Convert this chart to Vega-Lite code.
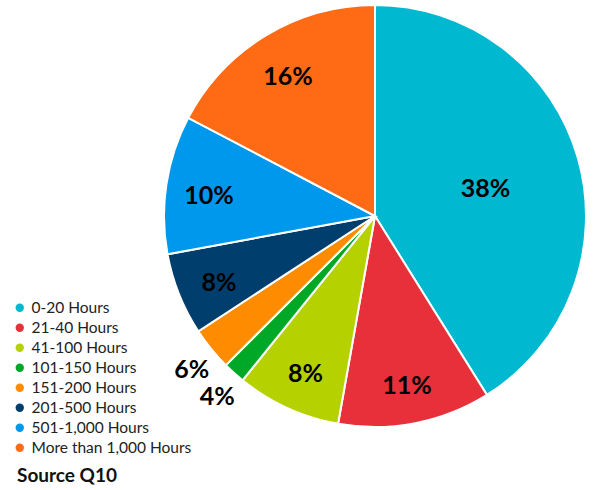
{
  "$schema": "https://vega.github.io/schema/vega-lite/v6.json",
  "width": 422,
  "height": 422,
  "autosize": {"type": "none"},
  "padding": {"left": 164, "top": 5, "right": 9, "bottom": 63},
  "background": "white",
  "title": {
    "text": "Source Q10",
    "orient": "bottom",
    "anchor": "start",
    "frame": "group",
    "dx": -147,
    "offset": 10,
    "font": "Lato",
    "fontSize": 19,
    "fontWeight": "bold",
    "color": "#111111"
  },
  "data": {
    "values": [
      {"idx": 1, "hours": "0-20 Hours", "share": 41.1, "label": "38%"},
      {"idx": 2, "hours": "21-40 Hours", "share": 11.7, "label": "11%"},
      {"idx": 3, "hours": "41-100 Hours", "share": 8.0, "label": "8%"},
      {"idx": 4, "hours": "101-150 Hours", "share": 1.7, "label": "4%"},
      {"idx": 5, "hours": "151-200 Hours", "share": 3.3, "label": "6%"},
      {"idx": 6, "hours": "201-500 Hours", "share": 6.3, "label": "8%"},
      {"idx": 7, "hours": "501-1,000 Hours", "share": 10.6, "label": "10%"},
      {"idx": 8, "hours": "More than 1,000 Hours", "share": 17.3, "label": "16%"}
    ]
  },
  "encoding": {
    "theta": {"field": "share", "type": "quantitative", "stack": true},
    "order": {"field": "idx", "type": "quantitative"}
  },
  "layer": [
    {
      "mark": {"type": "arc", "outerRadius": 211, "stroke": "white", "strokeWidth": 2},
      "encoding": {
        "color": {
          "field": "hours",
          "type": "nominal",
          "sort": ["0-20 Hours", "21-40 Hours", "41-100 Hours", "101-150 Hours", "151-200 Hours", "201-500 Hours", "501-1,000 Hours", "More than 1,000 Hours"],
          "scale": {
            "domain": ["0-20 Hours", "21-40 Hours", "41-100 Hours", "101-150 Hours", "151-200 Hours", "201-500 Hours", "501-1,000 Hours", "More than 1,000 Hours"],
            "range": ["#00B9D1", "#E8303A", "#B6D100", "#00A828", "#FF8B00", "#003F6D", "#0098EC", "#FF6A14"]
          },
          "legend": {
            "title": null,
            "orient": "none",
            "legendX": -152,
            "legendY": 295,
            "symbolType": "circle",
            "symbolSize": 70,
            "symbolStrokeWidth": 0,
            "labelFont": "Lato",
            "labelFontSize": 15.5,
            "labelColor": "#222222",
            "labelOffset": 4,
            "rowPadding": 3,
            "padding": 0,
            "labelLimit": 300
          }
        }
      }
    },
    {
      "mark": {
        "type": "text",
        "font": "Lato",
        "fontSize": 25,
        "fontWeight": "bold",
        "color": "#000000",
        "dy": 5,
        "radius": {"expr": "datum.idx === 1 ? 115 : (datum.idx === 4 || datum.idx === 5) ? 236 : 168"}
      },
      "encoding": {"text": {"field": "label"}}
    }
  ]
}
